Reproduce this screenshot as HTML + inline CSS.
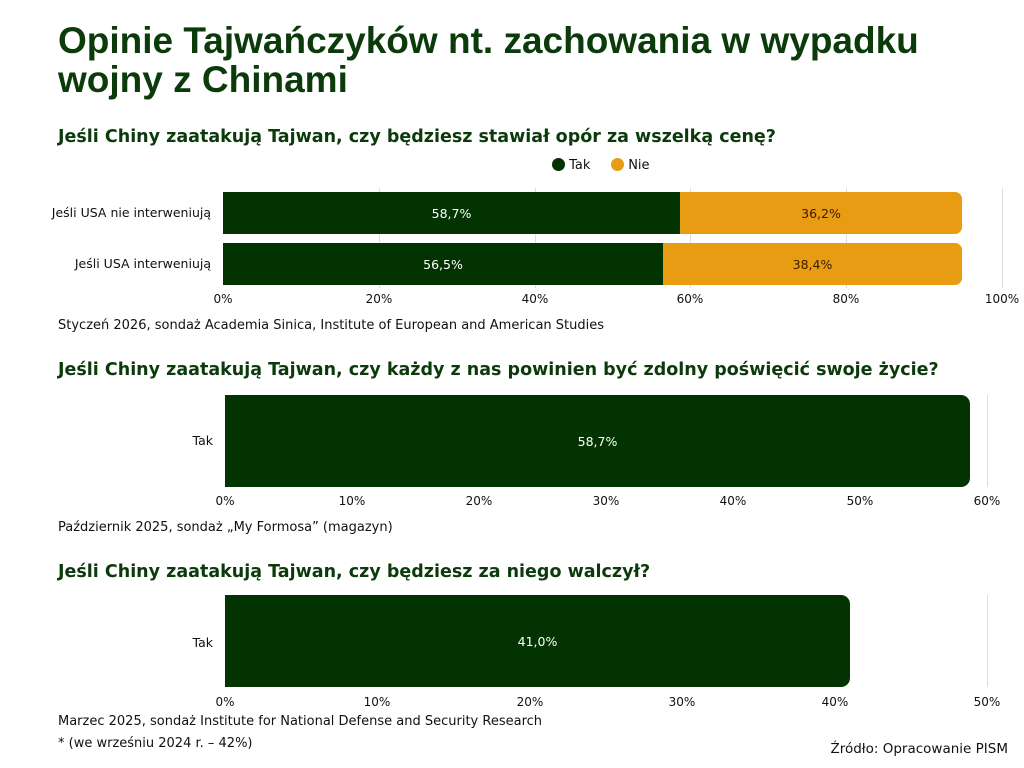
<!DOCTYPE html>
<html><head><meta charset="utf-8"><style>
body{margin:0;width:1024px;height:768px;background:#fff;position:relative;overflow:hidden;font-family:"DejaVu Sans","Liberation Sans",sans-serif;color:#111}
.a{position:absolute;white-space:nowrap}
h1{position:absolute;left:58px;top:21px;margin:0;font-family:"Liberation Sans",sans-serif;font-size:37px;line-height:39px;color:#0b3a0b;font-weight:bold}
.st{font-size:17.5px;font-weight:bold;color:#0b3a0b}
.bar{position:absolute}
.g{background:#033300;color:#fff}
.o{background:#e89c14;color:#3a1a00}
.lbl{font-size:12.5px;display:flex;align-items:center;justify-content:center}
.grid{position:absolute;width:1px;background:#ddd}
.tick{position:absolute;font-size:12px;transform:translateX(-50%)}
.cat{position:absolute;font-size:12.5px;text-align:right;white-space:nowrap}
.note{font-size:13px}
</style></head><body>
<h1>Opinie Tajwańczyków nt. zachowania w wypadku<br>wojny z Chinami</h1>

<div class="a st" style="left:58px;top:127px">Jeśli Chiny zaatakują Tajwan, czy będziesz stawiał opór za wszelką cenę?</div>
<div class="a" style="left:552px;top:158px;font-size:13px"><span style="display:inline-block;width:13px;height:13px;border-radius:50%;background:#033300;vertical-align:-2px"></span> Tak &nbsp;&nbsp;&nbsp; <span style="display:inline-block;width:13px;height:13px;border-radius:50%;background:#e89c14;vertical-align:-2px"></span> Nie</div>
<div class="grid" style="left:379px;top:188px;height:100px"></div>
<div class="grid" style="left:535px;top:188px;height:100px"></div>
<div class="grid" style="left:690px;top:188px;height:100px"></div>
<div class="grid" style="left:846px;top:188px;height:100px"></div>
<div class="grid" style="left:1002px;top:188px;height:100px"></div>
<div class="bar g lbl" style="left:223px;top:192px;width:457px;height:42px">58,7%</div>
<div class="bar o lbl" style="left:680px;top:192px;width:282px;height:42px;border-radius:0 7px 7px 0">36,2%</div>
<div class="bar g lbl" style="left:223px;top:243px;width:440px;height:42px">56,5%</div>
<div class="bar o lbl" style="left:663px;top:243px;width:299px;height:42px;border-radius:0 7px 7px 0">38,4%</div>
<div class="cat" style="right:813px;top:205px">Jeśli USA nie interweniują</div>
<div class="cat" style="right:813px;top:256px">Jeśli USA interweniują</div>
<div class="tick" style="left:223px;top:292px">0%</div>
<div class="tick" style="left:379px;top:292px">20%</div>
<div class="tick" style="left:535px;top:292px">40%</div>
<div class="tick" style="left:690px;top:292px">60%</div>
<div class="tick" style="left:846px;top:292px">80%</div>
<div class="tick" style="left:1002px;top:292px">100%</div>
<div class="a note" style="left:58px;top:318px">Styczeń 2026, sondaż Academia Sinica, Institute of European and American Studies</div>

<div class="a st" style="left:58px;top:360px">Jeśli Chiny zaatakują Tajwan, czy każdy z nas powinien być zdolny poświęcić swoje życie?</div>
<div class="grid" style="left:352px;top:395px;height:92px"></div>
<div class="grid" style="left:479px;top:395px;height:92px"></div>
<div class="grid" style="left:606px;top:395px;height:92px"></div>
<div class="grid" style="left:733px;top:395px;height:92px"></div>
<div class="grid" style="left:860px;top:395px;height:92px"></div>
<div class="grid" style="left:987px;top:395px;height:92px"></div>
<div class="bar g lbl" style="left:225px;top:395px;width:745px;height:92px;border-radius:0 9px 9px 0">58,7%</div>
<div class="cat" style="right:811px;top:433px">Tak</div>
<div class="tick" style="left:225px;top:494px">0%</div>
<div class="tick" style="left:352px;top:494px">10%</div>
<div class="tick" style="left:479px;top:494px">20%</div>
<div class="tick" style="left:606px;top:494px">30%</div>
<div class="tick" style="left:733px;top:494px">40%</div>
<div class="tick" style="left:860px;top:494px">50%</div>
<div class="tick" style="left:987px;top:494px">60%</div>
<div class="a note" style="left:58px;top:520px">Październik 2025, sondaż „My Formosa” (magazyn)</div>

<div class="a st" style="left:58px;top:562px">Jeśli Chiny zaatakują Tajwan, czy będziesz za niego walczył?</div>
<div class="grid" style="left:377px;top:595px;height:92px"></div>
<div class="grid" style="left:530px;top:595px;height:92px"></div>
<div class="grid" style="left:682px;top:595px;height:92px"></div>
<div class="grid" style="left:835px;top:595px;height:92px"></div>
<div class="grid" style="left:987px;top:595px;height:92px"></div>
<div class="bar g lbl" style="left:225px;top:595px;width:625px;height:92px;border-radius:0 9px 9px 0">41,0%</div>
<div class="cat" style="right:811px;top:635px">Tak</div>
<div class="tick" style="left:225px;top:695px">0%</div>
<div class="tick" style="left:377px;top:695px">10%</div>
<div class="tick" style="left:530px;top:695px">20%</div>
<div class="tick" style="left:682px;top:695px">30%</div>
<div class="tick" style="left:835px;top:695px">40%</div>
<div class="tick" style="left:987px;top:695px">50%</div>
<div class="a note" style="left:58px;top:714px">Marzec 2025, sondaż Institute for National Defense and Security Research</div>
<div class="a note" style="left:58px;top:736px">* (we wrześniu 2024 r. – 42%)</div>
<div class="a" style="right:16px;top:741px;font-size:13.5px">Źródło: Opracowanie PISM</div>
</body></html>
